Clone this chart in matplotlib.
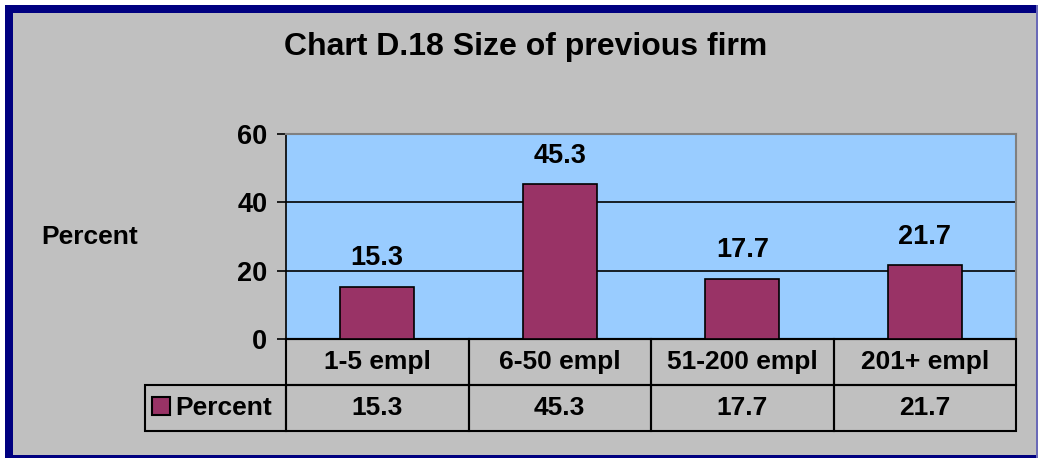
import matplotlib.pyplot as plt
from matplotlib.patches import Rectangle

categories = ["1-5 empl", "6-50 empl", "51-200 empl", "201+ empl"]
percent = [15.3, 45.3, 17.7, 21.7]
series_name = "Percent"
y_ticks = [0, 20, 40, 60]

W, H = 1039, 458
BAR_COLOR = "#993366"
PLOT_BG = "#99CCFF"
CHART_BG = "#C0C0C0"
NAVY = "#000080"

plt.rcParams["font.family"] = ["Liberation Sans", "DejaVu Sans"]
plt.rcParams["font.weight"] = "bold"

fig = plt.figure(figsize=(W / 100, H / 100), dpi=100, facecolor="white")


def px_rect(x0, y0, x1, y1, color, z=0):
    # rectangle given in pixel coords (origin top-left)
    fig.add_artist(Rectangle((x0 / W, 1 - y1 / H), (x1 - x0) / W, (y1 - y0) / H,
                             transform=fig.transFigure, facecolor=color,
                             edgecolor="none", zorder=z))


# chart area background and border
px_rect(5, 5, 1038, 458, CHART_BG, z=-10)
px_rect(5, 5, 1038, 13, NAVY, z=-9)
px_rect(5, 5, 13, 458, NAVY, z=-9)
px_rect(5, 455, 1038, 458, NAVY, z=-9)
px_rect(1036, 5, 1038, 458, "#6a6ab8", z=-9)

# plot area
left, right, top, bottom = 286, 1016, 134, 339
ax = fig.add_axes([left / W, 1 - bottom / H, (right - left) / W, (bottom - top) / H])
ax.set_facecolor(PLOT_BG)

x = range(len(categories))
bars = ax.bar(x, percent, width=0.405, color=BAR_COLOR, edgecolor="black",
              linewidth=1.2, zorder=3)
ax.set_xlim(-0.5, len(categories) - 0.5)
ax.set_ylim(0, 60)
ax.set_yticks(y_ticks)
ax.set_yticklabels([str(t) for t in y_ticks], fontsize=19.5, fontweight="bold")
ax.tick_params(axis="y", direction="out", length=6.5, width=1.2, pad=7)
ax.set_xticks([])

for yv in y_ticks[1:-1]:
    ax.axhline(yv, color="black", linewidth=1.2, zorder=1)

ax.spines["left"].set_linewidth(1.2)
ax.spines["bottom"].set_linewidth(1.5)
ax.spines["top"].set_color("#808080")
ax.spines["top"].set_linewidth(1.5)
ax.spines["right"].set_color("#808080")
ax.spines["right"].set_linewidth(1.5)

for xi, v in zip(x, percent):
    ax.annotate(f"{v}", (xi, v), xytext=(0, 11), textcoords="offset points",
                ha="center", va="bottom", fontsize=19.5, fontweight="bold")

# data table under the plot
plot_w = right - left
plot_h = bottom - top
label_w = left - 145
cell_text = [[""] + categories, [series_name] + [f"{v}" for v in percent]]
tbl = ax.table(cellText=cell_text,
               colWidths=[label_w] + [plot_w / len(categories)] * len(categories),
               bbox=[-label_w / plot_w, -(431 - bottom) / plot_h,
                     1 + label_w / plot_w, (431 - bottom) / plot_h],
               cellLoc="center")
tbl.auto_set_font_size(False)
for (r, c), cell in tbl.get_celld().items():
    cell.set_facecolor("none")
    cell.set_edgecolor("black")
    cell.set_linewidth(1.5)
    cell.get_text().set_fontsize(19)
    cell.get_text().set_fontweight("bold")
tbl[0, 0].visible_edges = "open"
tbl[1, 0].get_text().set_horizontalalignment("right")
tbl[1, 0].PAD = 0.1

# legend key in the table
ax.add_patch(Rectangle(((152 - left) / plot_w, -(415 - bottom) / plot_h),
                       18 / plot_w, 18 / plot_h, transform=ax.transAxes,
                       facecolor=BAR_COLOR, edgecolor="black", linewidth=1.5,
                       clip_on=False, zorder=5))

fig.text(526 / W, 1 - 47 / H, "Chart D.18 Size of previous firm",
         ha="center", va="center", fontsize=23, fontweight="bold")
fig.text(90 / W, 1 - 237 / H, "Percent", ha="center", va="center",
         fontsize=19, fontweight="bold")

fig.savefig("out.png", dpi=100, facecolor=fig.get_facecolor())
